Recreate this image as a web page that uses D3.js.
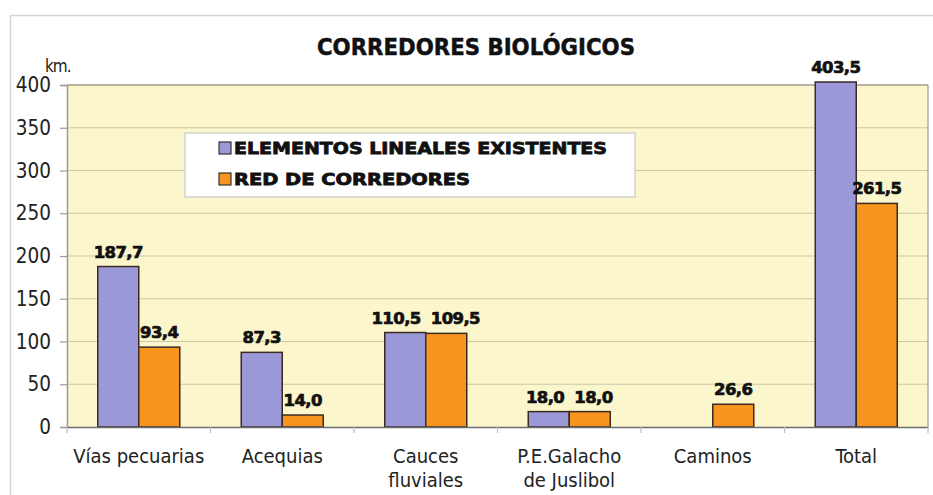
<!DOCTYPE html>
<html><head><meta charset="utf-8">
<script src="https://cdn.jsdelivr.net/npm/d3@7"></script>
<style>
html,body{margin:0;padding:0;background:#fff;}
svg{display:block;}
</style></head>
<body>
<svg id="chart" width="933" height="495"></svg>
<script>
const categories = [["Vías pecuarias"], ["Acequias"], ["Cauces", "fluviales"], ["P.E.Galacho", "de Juslibol"], ["Caminos"], ["Total"]];
const seriesNames = ["ELEMENTOS LINEALES EXISTENTES", "RED DE CORREDORES"];
const existentes = [187.7, 87.3, 110.5, 18.0, null, 403.5];
const corredores = [93.4, 14.0, 109.5, 18.0, 26.6, 261.5];
const yTicks = [0, 50, 100, 150, 200, 250, 300, 350, 400];
const title = "CORREDORES BIOLÓGICOS";
const unit = "km.";

const colors = ["#9b98d8", "#f7951f"];
const svg = d3.select("#chart");
const W = 933, H = 495;
const m = {left: 67, right: 5, top: 85, bottom: 68};
const pw = W - m.left - m.right, ph = H - m.top - m.bottom;
const labelFont = "'DejaVu Sans Condensed','DejaVu Sans',sans-serif";

// outer frame
svg.append("rect").attr("x", 10.5).attr("y", 15.5).attr("width", 940).attr("height", 500)
  .attr("fill", "none").attr("stroke", "#d4d4d4").attr("stroke-width", 1.5);

const x = d3.scaleBand().domain(d3.range(categories.length)).range([m.left, m.left + pw]).padding(0);
const y = d3.scaleLinear().domain([0, 400]).range([m.top + ph, m.top]);
const sub = d3.scaleBand().domain([0, 1]).range([0, x.bandwidth()]).paddingInner(0).paddingOuter(0.75);

const g = svg.append("g");
g.append("rect").attr("x", m.left).attr("y", m.top).attr("width", pw).attr("height", ph).attr("fill", "#fbf6cc");

// gridlines
g.selectAll("line.grid").data(yTicks.filter(t => t > 0 && t < 400)).join("line")
  .attr("x1", m.left).attr("x2", m.left + pw).attr("y1", d => y(d)).attr("y2", d => y(d))
  .attr("stroke", "#cdc8a8").attr("stroke-width", 1.2);
// frame of plot
g.append("line").attr("x1", m.left).attr("x2", m.left + pw).attr("y1", y(400)).attr("y2", y(400))
  .attr("stroke", "#a09d8c").attr("stroke-width", 1.5);
g.append("line").attr("x1", m.left + pw).attr("x2", m.left + pw).attr("y1", y(400)).attr("y2", y(0))
  .attr("stroke", "#a09d8c").attr("stroke-width", 1.2);

// y axis
const yAxis = d3.axisLeft(y).tickValues(yTicks).tickSize(7).tickPadding(9).tickFormat(d3.format("d"));
const ya = svg.append("g").attr("transform", `translate(${m.left},0)`).call(yAxis);
ya.select(".domain").attr("stroke", "#9a9a9a").attr("stroke-width", 1.5);
ya.selectAll(".tick line").attr("stroke", "#9a9a9a").attr("stroke-width", 1.2);
ya.selectAll(".tick text").attr("font-family", labelFont).attr("font-size", 20.5).attr("fill", "#222");

// x axis
const xAxis = d3.axisBottom(x).tickSize(0).tickFormat("");
const xa = svg.append("g").attr("transform", `translate(0,${y(0)})`).call(xAxis);
xa.select(".domain").attr("stroke", "#6b6b6b").attr("stroke-width", 1.5);
xa.selectAll(".bnd").data(d3.range(categories.length + 1)).join("line").attr("class", "bnd")
  .attr("x1", i => m.left + i * x.step()).attr("x2", i => m.left + i * x.step())
  .attr("y1", 0).attr("y2", 6).attr("stroke", "#bdbdbd").attr("stroke-width", 1.2);
xa.selectAll(".cat").data(categories).join("text").attr("class", "cat")
  .attr("font-family", labelFont).attr("font-size", 20).attr("fill", "#222").attr("text-anchor", "middle")
  .each(function(d, i) {
    const t = d3.select(this);
    d.forEach((line, k) => t.append("tspan").attr("x", x(i) + x.bandwidth() / 2).attr("y", 36 + k * 24).text(line));
  });

// bars
const series = [existentes, corredores];
const bars = [];
series.forEach((vals, s) => vals.forEach((v, i) => { if (v != null) bars.push({s, i, v}); }));
g.selectAll("rect.bar").data(bars).join("rect").attr("class", "bar")
  .attr("x", d => x(d.i) + sub(d.s)).attr("width", sub.bandwidth())
  .attr("y", d => y(d.v)).attr("height", d => y(0) - y(d.v))
  .attr("fill", d => colors[d.s]).attr("stroke", "#3b2a22").attr("stroke-width", 1.5);

// value labels
const fmt = v => d3.format(".1f")(v).replace(".", ",");
const labels = g.selectAll("text.val").data(bars).join("text").attr("class", "val")
  .attr("x", d => x(d.i) + sub(d.s) + sub.bandwidth() / 2).attr("y", d => y(d.v) - 9)
  .attr("text-anchor", "middle").attr("font-family", "'DejaVu Sans',sans-serif").attr("font-weight", "bold")
  .attr("font-size", 16.5).attr("fill", "#111").attr("stroke", "#111").attr("stroke-width", 0.7)
  .attr("letter-spacing", -0.6).text(d => fmt(d.v));
// resolve horizontal overlaps between labels of the same category
const nodes = labels.nodes();
bars.forEach((a, ia) => bars.forEach((b, ib) => {
  if (ia < ib && a.i === b.i) {
    const ra = nodes[ia].getBBox(), rb = nodes[ib].getBBox();
    const vOver = !(ra.y + ra.height < rb.y || rb.y + rb.height < ra.y);
    const over = ra.x + ra.width + 10 - rb.x;
    if (vOver && over > 0) {
      d3.select(nodes[ia]).attr("x", +d3.select(nodes[ia]).attr("x") - over / 2);
      d3.select(nodes[ib]).attr("x", +d3.select(nodes[ib]).attr("x") + over / 2);
    }
  }
}));

// title
svg.append("text").attr("x", 476).attr("y", 55).attr("text-anchor", "middle")
  .attr("font-family", "'DejaVu Sans',sans-serif").attr("font-weight", "bold").attr("font-size", 23.5)
  .attr("stroke", "#111").attr("stroke-width", 0.5)
  .attr("textLength", 318).attr("lengthAdjust", "spacingAndGlyphs").attr("fill", "#111").text(title);
svg.append("text").attr("x", 45).attr("y", 72).attr("font-family", labelFont).attr("font-size", 17)
  .attr("letter-spacing", -1).attr("fill", "#222").text(unit);

// legend
const lg = svg.append("g").attr("transform", "translate(185,133)");
lg.append("rect").attr("width", 450).attr("height", 64).attr("fill", "#fff").attr("stroke", "#c8c8c8").attr("stroke-width", 1.2);
const legLen = [373, 236];
seriesNames.forEach((nm, k) => {
  const cy = 15 + k * 31;
  lg.append("rect").attr("x", 34).attr("y", cy - 6).attr("width", 12).attr("height", 12)
    .attr("fill", colors[k]).attr("stroke", "#333").attr("stroke-width", 1.2);
  lg.append("text").attr("x", 49).attr("y", cy + 6).attr("font-family", "'DejaVu Sans',sans-serif")
    .attr("font-weight", "bold").attr("font-size", 15.5).attr("fill", "#111").attr("stroke", "#111").attr("stroke-width", 0.8)
    .attr("textLength", legLen[k]).attr("lengthAdjust", "spacingAndGlyphs").text(nm);
});
</script>
</body></html>
